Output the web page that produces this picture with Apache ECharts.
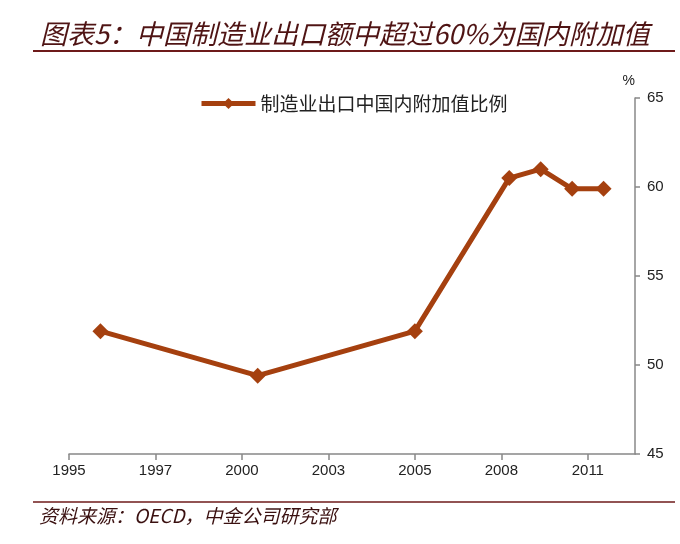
<!DOCTYPE html>
<html>
<head>
<meta charset="utf-8">
<script src="https://cdn.jsdelivr.net/npm/echarts@6/dist/echarts.min.js"></script>
<style>
  html, body { margin: 0; padding: 0; background: #fff; }
  #chart { width: 680px; height: 544px; }
</style>
</head>
<body>
<div id="chart"></div>
<script>
// data
const years = [1995, 2000, 2005, 2008, 2009, 2010, 2011];
const shares = [51.9, 49.4, 51.9, 60.5, 61.0, 59.9, 59.9];
// x axis ticks sit at odd spots in the original (Excel date axis)
const tickYears = [1994, 1996.75, 1999.5, 2002.25, 2005, 2007.75, 2010.5];
const tickLabels = ["1995", "1997", "2000", "2003", "2005", "2008", "2011"];
const seriesName = "制造业出口中国内附加值比例";

const chart = echarts.init(document.getElementById("chart"));

const lineColor = "#a5400f";
const axisColor = "#888";
const ruleColor = "#6e1a1a";

chart.setOption({
  animation: false,
  backgroundColor: "#fff",
  title: {
    text: "图表5：中国制造业出口额中超过60%为国内附加值",
    left: 35,
    top: 15,
    textStyle: {
      color: "#4f1414",
      fontSize: 27,
      fontStyle: "italic",
      fontWeight: "normal",
      fontFamily: "Noto Sans CJK SC",
    },
  },
  graphic: [
    { type: "line", shape: { x1: 33, y1: 51, x2: 675, y2: 51 }, style: { stroke: ruleColor, lineWidth: 2 } },
    { type: "line", shape: { x1: 33, y1: 502, x2: 675, y2: 502 }, style: { stroke: ruleColor, lineWidth: 1.5 } },
    {
      type: "text",
      left: 39,
      top: 506,
      style: {
        text: "资料来源：OECD，中金公司研究部",
        fill: "#3a1010",
        font: "italic 19px 'Noto Sans CJK SC'",
      },
    },
  ],
  legend: {
    data: [seriesName],
    left: 194,
    top: 89,
    itemWidth: 54,
    itemHeight: 14,
    itemGap: 6,
    selectedMode: false,
    lineStyle: { width: 5 },
    textStyle: { color: "#222", fontSize: 19, fontFamily: "Noto Sans CJK SC" },
  },
  grid: { left: 69, right: 45, top: 98, bottom: 90 },
  xAxis: {
    type: "value",
    min: 1994,
    max: 2012,
    splitLine: { show: false },
    axisLine: { lineStyle: { color: axisColor, width: 1.5 } },
    axisTick: { show: true, length: 6, customValues: tickYears, lineStyle: { color: axisColor, width: 1.5 } },
    axisLabel: {
      customValues: tickYears,
      color: "#222",
      fontSize: 15,
      fontFamily: "Liberation Sans",
      margin: 9,
      formatter: (v) => {
        const i = tickYears.findIndex((t) => Math.abs(t - v) < 1e-6);
        return i >= 0 ? tickLabels[i] : "";
      },
    },
  },
  yAxis: {
    type: "value",
    position: "right",
    min: 45,
    max: 65,
    interval: 5,
    name: "%",
    nameLocation: "end",
    nameGap: 10,
    nameTextStyle: { color: "#222", fontSize: 14, fontFamily: "Liberation Sans", align: "right" },
    splitLine: { show: false },
    axisLine: { show: true, lineStyle: { color: axisColor, width: 1.5 } },
    axisTick: { show: true, length: 5, lineStyle: { color: axisColor, width: 1.5 } },
    axisLabel: { color: "#222", fontSize: 15, fontFamily: "Liberation Sans", margin: 12 },
  },
  series: [
    {
      name: seriesName,
      type: "line",
      data: years.map((y, i) => [y, shares[i]]),
      symbol: "diamond",
      symbolSize: 16,
      lineStyle: { color: lineColor, width: 5 },
      itemStyle: { color: lineColor },
    },
  ],
});
</script>
</body>
</html>
